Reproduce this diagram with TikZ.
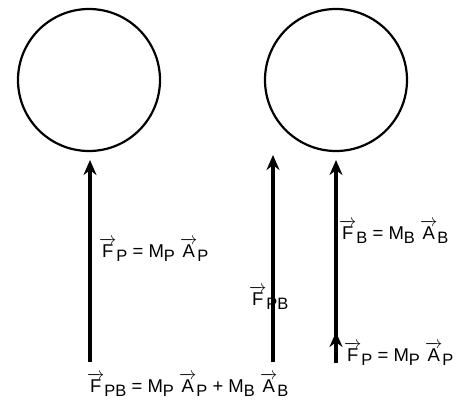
\documentclass[tikz,border=0pt]{standalone}
\usepackage{amsmath}
\usepackage{fontspec}
\setmainfont{Liberation Sans}
\usetikzlibrary{arrows.meta}
\newcommand{\vv}[1]{\ensuremath{\overrightarrow{\text{#1}}}}
\newcommand{\sbs}[1]{\raisebox{-0.5ex}{\fontsize{16.5}{16.5}\selectfont #1}}
\begin{document}
\begin{tikzpicture}[x=1pt,y=-1pt,
  body/.style={draw,line width=2.2pt,circle,minimum size=142pt,inner sep=0pt},
  force/.style={line width=3.2pt,-{Stealth[length=15pt,width=13pt]}},
  lab/.style={font=\fontsize{18.5}{18.5}\selectfont,inner sep=0pt,anchor=west}]
\useasboundingbox (0,0) rectangle (470,408);
\node[body] (c1) at (89,80) {};
\node[body] (c2) at (336,80) {};
\coordinate (a1s) at (90,362);
\coordinate (a1e) at (90,160);
\coordinate (a2s) at (273,362);
\coordinate (a2e) at (273,155);
\coordinate (a3s) at (336,363);
\coordinate (a3m) at (336,332);
\coordinate (a3e) at (336,160);
\draw[force] (a1s) -- (a1e);
\draw[force] (a2s) -- (a2e);
\draw[force] (a3s) -- (a3e);
\draw[force] (a3s) -- (a3m);
\node[lab] (l1) at (99,250) {\vv{F}\sbs{P} = M\sbs{P} \vv{A}\sbs{P}};
\node[lab] (l2) at (249,298) {\vv{F}\sbs{PB}};
\node[lab] (l3) at (339,232) {\vv{F}\sbs{B} = M\sbs{B} \vv{A}\sbs{B}};
\node[lab] (l4) at (344,354) {\vv{F}\sbs{P} = M\sbs{P} \vv{A}\sbs{P}};
\node[lab] (l5) at (87,385) {\vv{F}\sbs{PB} = M\sbs{P} \vv{A}\sbs{P} + M\sbs{B} \vv{A}\sbs{B}};
\end{tikzpicture}
\end{document}
